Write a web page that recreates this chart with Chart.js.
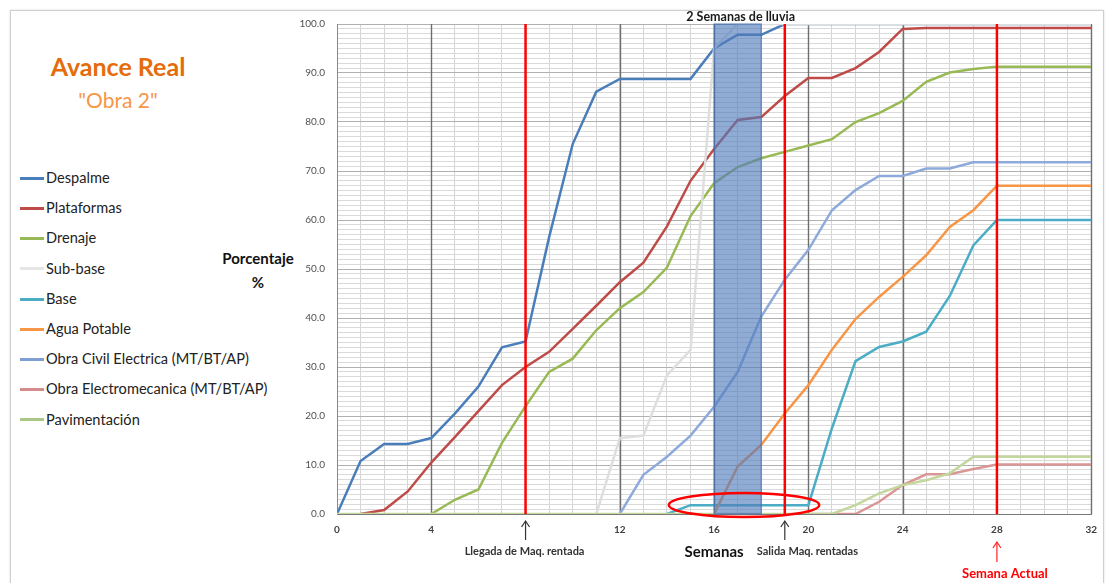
<!DOCTYPE html>
<html><head><meta charset="utf-8">
<script src="https://cdn.jsdelivr.net/npm/chart.js@4.4.0/dist/chart.umd.min.js"></script>
<style>
html,body{margin:0;padding:0;background:#fff;width:1107px;height:583px;overflow:hidden;font-family:Lato,"Open Sans",sans-serif;}
#frame{position:absolute;left:10px;top:10px;width:1092px;height:600px;border:1px solid #cfcfcf;box-shadow:0 0 2px #ddd;}
#c{position:absolute;left:0;top:0;}
.t1{position:absolute;left:0;width:236px;text-align:center;top:51px;font-size:25px;font-weight:bold;color:#e46c0a;}
.t2{position:absolute;left:0;width:236px;text-align:center;top:87px;font-size:21px;color:#f79646;}
.leg{position:absolute;left:20px;font-size:14.6px;color:#222;height:20px;line-height:20px;white-space:nowrap;}
.leg span{display:inline-block;width:24px;height:3px;vertical-align:middle;margin-right:2px;position:relative;top:-1px;}
.ylab{position:absolute;left:208px;width:100px;text-align:center;font-size:15px;font-weight:bold;color:#111;line-height:24px;top:246px;}
</style></head>
<body>
<div id="frame"></div>
<div class="t1">Avance Real</div>
<div class="t2">"Obra 2"</div>
<div id="legend"></div>
<div class="ylab">Porcentaje<br>%</div>
<canvas id="c" width="1107" height="583"></canvas>
<script>
const WEEKS = [0,1,2,3,4,5,6,7,8,9,10,11,12,13,14,15,16,17,18,19,20,21,22,23,24,25,26,27,28,29,30,31,32];
const SERIES_NAMES = ["Despalme","Plataformas","Drenaje","Sub-base","Base","Agua Potable","Obra Civil Electrica (MT/BT/AP)","Obra Electromecanica (MT/BT/AP)","Pavimentación"];
const SERIES_COLORS = ["#4a7ebb","#be4b48","#98b954","#dedede","#4bacc6","#f79646","#8eaadb","#d99694","#c3d69b"];
const LEGEND_COLORS = ["#4a7ebb","#be4b48","#98b954","#e6e6e6","#4bacc6","#f79646","#7f9fd4","#d58b8b","#aac883"];
const _ = null;
const despalme    = [0,10.8,14.3,14.3,15.5,20.5,26,34,35.2,56.5,75.5,86.2,88.8,88.8,88.8,88.8,95,97.8,97.8,100,100,100,100,100,100,100,100,100,100,100,100,100,100];
const plataformas = [_,0,0.8,4.6,10.5,15.7,21,26.3,30,33.1,37.8,42.5,47.3,51.3,58.7,68,74.5,80.4,81,85.3,89,89,91,94.3,99,99.2,99.2,99.2,99.2,99.2,99.2,99.2,99.2];
const drenaje     = [_,_,_,_,0,2.9,5,14.5,22,29,31.7,37.5,42,45.3,50.3,60.8,67.5,70.8,72.6,73.9,75.2,76.5,80,81.8,84.3,88.2,90.1,90.8,91.3,91.3,91.3,91.3,91.3];
const subbase     = [_,_,_,_,_,_,_,_,_,_,_,0,15.5,16,28.3,33.5,95,100,100,100,100,100,100,100,100,100,100,100,100,100,100,100,100];
const base        = [_,_,_,_,_,_,_,_,_,_,_,_,_,_,0,1.8,1.8,1.8,1.8,1.8,1.8,17.5,31.2,34.1,35.2,37.2,44.5,54.8,60,60,60,60,60];
const agua        = [_,_,_,_,_,_,_,_,_,_,_,_,_,_,_,_,0,9.7,14.1,20.5,26.3,33.5,39.8,44.3,48.4,52.8,58.6,62,67,67,67,67,67];
const civil       = [_,_,_,_,_,_,_,_,_,_,_,_,0,8,11.7,16,21.9,29,40.3,47.8,53.9,62,66.1,69,69,70.5,70.5,71.8,71.8,71.8,71.8,71.8,71.8];
const electro     = [_,_,_,_,_,_,_,_,_,_,_,_,_,_,_,_,_,_,_,_,0,0,0,2.5,5.9,8.1,8.1,9.2,10.1,10.1,10.1,10.1,10.1];
const pavim       = [0,0,0,0,0,0,0,0,0,0,0,0,0,0,0,0,0,0,0,0,0,0,1.8,4.2,5.9,6.9,8.3,11.7,11.7,11.7,11.7,11.7,11.7];
const SERIES = [despalme,plataformas,drenaje,subbase,base,agua,civil,electro,pavim];

const X_LABELS = [0,4,12,16,20,24,28,32];
const X_MAJOR = [4,12,16,20,24,32];
const Y_LABELS = [0,10,20,30,40,50,60,70,80,90,100];
const RAIN = [16,18];
const RED_LINES = [8,19,28];
const ARRIVAL_WEEK = 8, DEPART_WEEK = 19, CURRENT_WEEK = 28;
const ELLIPSE = {x:17.27, y:1.85, rx:3.19, ry:2.45};

// HTML legend
const legEl = document.getElementById('legend');
SERIES_NAMES.forEach((n,i)=>{
  const d=document.createElement('div'); d.className='leg';
  d.style.top=(168+i*30.2)+'px';
  d.innerHTML='<span style="background:'+LEGEND_COLORS[i]+'"></span>'+n;
  legEl.appendChild(d);
});

const annot = {
  id:'annot',
  beforeDatasetsDraw(chart){
    const {ctx, chartArea:a, scales:{x}} = chart;
    ctx.save();
    ctx.strokeStyle='#6f6f6f'; ctx.lineWidth=1.4;
    X_MAJOR.forEach(w=>{const px=Math.round(x.getPixelForValue(w))+0.5;ctx.beginPath();ctx.moveTo(px,a.top);ctx.lineTo(px,a.bottom);ctx.stroke();});
    ctx.restore();
  },
  afterDatasetsDraw(chart){
    const {ctx, chartArea:a, scales:{x,y}} = chart;
    ctx.save();
    // rain rectangle
    const r0=x.getPixelForValue(RAIN[0]), r1=x.getPixelForValue(RAIN[1]);
    ctx.fillStyle='rgba(82,124,188,0.64)';
    ctx.fillRect(r0,a.top,r1-r0,a.bottom-a.top);
    ctx.strokeStyle='rgba(70,108,170,0.75)'; ctx.lineWidth=1.2;
    ctx.strokeRect(r0,a.top,r1-r0,a.bottom-a.top);
    // red lines
    ctx.strokeStyle='#ff0000'; ctx.lineWidth=2.5;
    RED_LINES.forEach(w=>{const px=x.getPixelForValue(w);ctx.beginPath();ctx.moveTo(px,a.top);ctx.lineTo(px,a.bottom);ctx.stroke();});
    // ellipse
    const cx=x.getPixelForValue(ELLIPSE.x), cy=y.getPixelForValue(ELLIPSE.y);
    const rx=x.getPixelForValue(ELLIPSE.x+ELLIPSE.rx)-cx, ry=cy-y.getPixelForValue(ELLIPSE.y+ELLIPSE.ry);
    ctx.lineWidth=2.5; ctx.beginPath(); ctx.ellipse(cx,cy,rx,ry,0,0,Math.PI*2); ctx.stroke();
    // texts
    ctx.fillStyle='#1a1a1a'; ctx.textAlign='center'; ctx.textBaseline='middle';
    ctx.font='bold 12.5px Lato';
    ctx.fillText('2 Semanas de lluvia',(r0+r1)/2+3,a.top-7);
    // arrows
    function arrow(px,y0,y1,col){
      ctx.strokeStyle=col;ctx.fillStyle=col;ctx.lineWidth=1.2;
      ctx.beginPath();ctx.moveTo(px,y0);ctx.lineTo(px,y1);ctx.stroke();
      ctx.beginPath();ctx.moveTo(px-4,y1+6);ctx.lineTo(px,y1);ctx.lineTo(px+4,y1+6);ctx.stroke();
    }
    const pa=x.getPixelForValue(ARRIVAL_WEEK), pd=x.getPixelForValue(DEPART_WEEK), pc=x.getPixelForValue(CURRENT_WEEK);
    arrow(pa,a.bottom+26,a.bottom+7,'#333');
    arrow(pd,a.bottom+26,a.bottom+7,'#333');
    arrow(pc,a.bottom+48,a.bottom+28,'#ff2020');
    ctx.fillStyle='#333'; ctx.font='bold 11px Lato';
    ctx.fillText('Llegada de Maq. rentada',pa-1,a.bottom+37);
    ctx.textAlign='left';
    ctx.fillText('Salida Maq. rentadas',pd-28,a.bottom+37);
    ctx.textAlign='center';
    ctx.fillStyle='#111'; ctx.font='bold 15px Lato';
    ctx.fillText('Semanas',(a.left+a.right)/2,a.bottom+38);
    ctx.fillStyle='#ff0000'; ctx.font='bold 13px Lato';
    ctx.fillText('Semana Actual',pc+8,a.bottom+60);
    ctx.restore();
  }
};

new Chart(document.getElementById('c'),{
  type:'line',
  data:{datasets:SERIES.map((s,i)=>({
    label:SERIES_NAMES[i],
    data:WEEKS.map((w,j)=>({x:w,y:s[j]})),
    borderColor:SERIES_COLORS[i],
    backgroundColor:SERIES_COLORS[i],
    borderWidth:2.5, pointRadius:0, tension:0, spanGaps:false,
    order:SERIES.length-i
  }))},
  options:{
    responsive:false, animation:false,
    layout:{padding:{left:297,right:13,top:24,bottom:0}},
    plugins:{legend:{display:false},tooltip:{enabled:false}},
    scales:{
      x:{type:'linear',min:0,max:32,
        afterFit(s){s.height=69;},
        grid:{drawTicks:false,color:'#d4d4d4',lineWidth:1},
        border:{color:'#7a7a7a'},
        ticks:{stepSize:1,autoSkip:false,maxRotation:0,padding:10,color:'#404040',font:{family:'Lato',size:10,weight:'bold'},
          callback:v=>X_LABELS.includes(v)?String(v):''}
      },
      y:{min:0,max:100,
        afterFit(s){s.width=40;},
        grid:{drawTicks:false,
          color:c=>c.tick.value%10===0?'#b0b0b0':'#dadada'},
        border:{color:'#8a8a8a'},
        ticks:{stepSize:1,autoSkip:false,maxTicksLimit:200,padding:12,color:'#505050',font:{family:'Lato',size:10},
          callback:v=>Y_LABELS.includes(v)?v.toFixed(1):''}
      }
    }
  },
  plugins:[annot]
});
</script>
</body></html>
